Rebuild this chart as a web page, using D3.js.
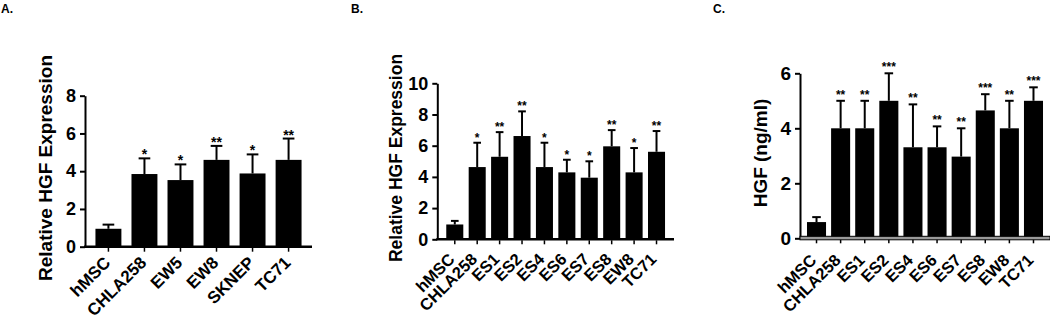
<!DOCTYPE html>
<html>
<head>
<meta charset="utf-8">
<script src="https://cdn.jsdelivr.net/npm/d3@7"></script>
<style>
  body { margin: 0; background: #fff; }
  svg { display: block; }
  text { font-family: "Liberation Sans", Arial, sans-serif; font-weight: bold; }
</style>
</head>
<body>
<svg id="chart" width="1050" height="323"></svg>
<script>
// panel A
const catsA = ["hMSC", "CHLA258", "EW5", "EW8", "SKNEP", "TC71"];
const valsA = [0.95, 3.85, 3.53, 4.6, 3.88, 4.6];
const errA  = [1.17, 4.68, 4.36, 5.34, 4.89, 5.73];
const starsA = ["", "*", "*", "**", "*", "**"];
const ticksA = [0, 2, 4, 6, 8];

// panel B
const catsB = ["hMSC", "CHLA258", "ES1", "ES2", "ES4", "ES6", "ES7", "ES8", "EW8", "TC71"];
const valsB = [0.95, 4.63, 5.29, 6.62, 4.63, 4.29, 3.95, 5.96, 4.29, 5.61];
const errB  = [1.18, 6.19, 6.87, 8.2, 6.19, 5.1, 5.0, 7.0, 5.85, 6.94];
const starsB = ["", "*", "**", "**", "*", "*", "*", "**", "*", "**"];
const ticksB = [0, 2, 4, 6, 8, 10];

// panel C
const catsC = ["hMSC", "CHLA258", "ES1", "ES2", "ES4", "ES6", "ES7", "ES8", "EW8", "TC71"];
const valsC = [0.59, 4.0, 4.0, 5.0, 3.31, 3.31, 2.97, 4.65, 4.0, 5.0];
const errC  = [0.77, 5.0, 5.0, 6.0, 4.87, 4.07, 4.0, 5.24, 5.0, 5.49];
const starsC = ["", "**", "**", "***", "**", "**", "**", "***", "**", "***"];
const ticksC = [0, 2, 4, 6];

const svg = d3.select("#chart");

function panel(opt) {
  const g = svg.append("g");
  const x = d3.scaleBand()
    .domain(opt.cats)
    .range([opt.x0, opt.x1])
    .paddingInner(opt.pi)
    .paddingOuter(opt.po);
  const y = d3.scaleLinear()
    .domain([0, opt.ymax])
    .range([opt.y0, opt.yTop]);

  const data = opt.cats.map((c, i) => ({c, v: opt.vals[i], e: opt.errs[i], s: opt.stars[i]}));
  const cx = d => x(d.c) + x.bandwidth() / 2;

  // bars
  g.append("g").selectAll("rect")
    .data(data)
    .join("rect")
      .attr("x", d => x(d.c))
      .attr("y", d => y(d.v))
      .attr("width", x.bandwidth())
      .attr("height", d => y(0) - y(d.v))
      .attr("fill", "#000");

  // error bars (upper only)
  const capW = x.bandwidth() * 0.45;
  const eb = g.append("g").attr("stroke", "#000").attr("stroke-width", 2);
  eb.selectAll("line.v")
    .data(data)
    .join("line")
      .attr("class", "v")
      .attr("x1", cx).attr("x2", cx)
      .attr("y1", d => y(d.v))
      .attr("y2", d => y(d.e));
  eb.selectAll("line.cap")
    .data(data)
    .join("line")
      .attr("class", "cap")
      .attr("x1", d => cx(d) - capW / 2)
      .attr("x2", d => cx(d) + capW / 2)
      .attr("y1", d => y(d.e))
      .attr("y2", d => y(d.e));

  // stars
  g.append("g").selectAll("text")
    .data(data.filter(d => d.s))
    .join("text")
      .attr("x", cx)
      .attr("y", d => y(d.e) + opt.starDy)
      .attr("text-anchor", "middle")
      .attr("font-size", opt.starSize)
      .text(d => d.s);

  // y axis
  const yAxis = g.append("g")
    .attr("transform", `translate(${opt.x0},0)`)
    .call(d3.axisLeft(y).tickValues(opt.ticks).tickFormat(d3.format("d"))
      .tickSize(5).tickPadding(4).tickSizeOuter(0));
  yAxis.select(".domain").attr("stroke-width", 2);
  yAxis.selectAll(".tick line").attr("stroke-width", 2);
  yAxis.selectAll(".tick text").attr("font-size", opt.tickSize).attr("font-family", null);

  // x axis
  const xAxis = g.append("g")
    .attr("transform", `translate(0,${opt.y0})`)
    .call(d3.axisBottom(x).tickSize(5).tickSizeOuter(0));
  xAxis.select(".domain").remove();
  xAxis.selectAll(".tick line").attr("stroke-width", 1.5).attr("y1", 1);
  xAxis.selectAll(".tick text")
    .attr("font-size", opt.labelSize)
    .attr("font-family", null)
    .attr("text-anchor", "end")
    .attr("dy", null)
    .attr("y", 0)
    .attr("x", 0)
    .attr("transform", `translate(${opt.lx},${opt.ly}) rotate(-45)`);

  if (opt.doubleAxis) {
    g.append("rect")
      .attr("x", opt.x0)
      .attr("y", opt.y0 - 2)
      .attr("width", opt.xEnd - opt.x0)
      .attr("height", 3.5)
      .attr("fill", "#999")
      .attr("stroke", "#000")
      .attr("stroke-width", 1);
  } else {
    g.append("line")
      .attr("x1", opt.x0 - 1).attr("x2", opt.xEnd)
      .attr("y1", opt.y0).attr("y2", opt.y0)
      .attr("stroke", "#000").attr("stroke-width", 2.5);
  }

  // y title
  g.append("text")
    .attr("transform", `translate(${opt.tx},${opt.ty}) rotate(-90)`)
    .attr("text-anchor", "middle")
    .attr("dominant-baseline", "middle")
    .attr("font-size", opt.titleSize)
    .text(opt.title);

  // panel letter
  g.append("text")
    .attr("x", opt.px)
    .attr("y", 13)
    .attr("font-size", 12)
    .text(opt.letter);
}

panel({
  cats: catsA, vals: valsA, errs: errA, stars: starsA, ticks: ticksA, ymax: 8,
  x0: 85, x1: 312, xEnd: 312, pi: 0.28, po: 0.29,
  y0: 246.7, yTop: 95.7,
  starDy: 1, starSize: 14,
  tickSize: 18, labelSize: 17, lx: 3, ly: 17,
  title: "Relative HGF Expression", titleSize: 19, tx: 47, ty: 168,
  letter: "A.", px: 1
});

panel({
  cats: catsB, vals: valsB, errs: errB, stars: starsB, ticks: ticksB, ymax: 10,
  x0: 437.3, x1: 674, xEnd: 674, pi: 0.24, po: 0.4,
  y0: 239.3, yTop: 83.3,
  starDy: -1, starSize: 12,
  tickSize: 18, labelSize: 16.5, lx: 1, ly: 21,
  title: "Relative HGF Expression", titleSize: 17.5, tx: 397, ty: 158,
  letter: "B.", px: 351
});

panel({
  cats: catsC, vals: valsC, errs: errC, stars: starsC, ticks: ticksC, ymax: 6,
  x0: 800, x1: 1050, xEnd: 1050, pi: 0.21, po: 0.29,
  y0: 238.3, yTop: 73.3,
  starDy: -2, starSize: 12, doubleAxis: true,
  tickSize: 19, labelSize: 16.5, lx: 1, ly: 23,
  title: "HGF (ng/ml)", titleSize: 19, tx: 762, ty: 153,
  letter: "C.", px: 713
});
</script>
</body>
</html>
